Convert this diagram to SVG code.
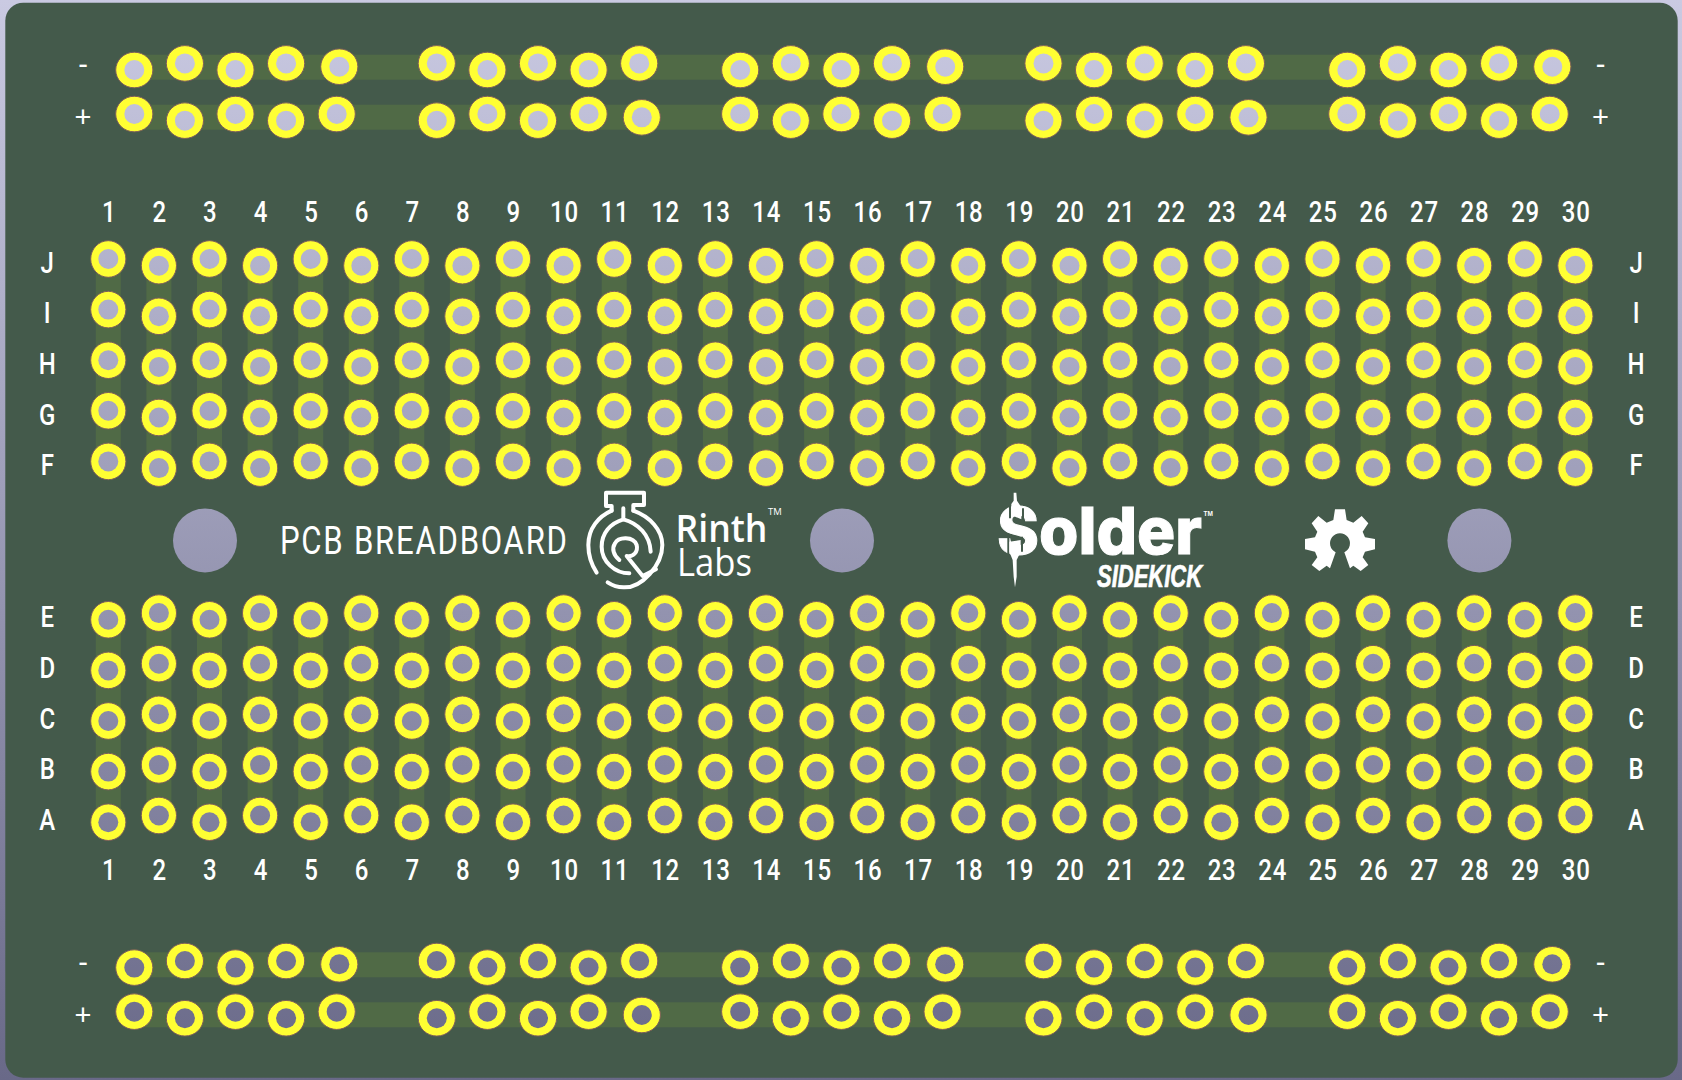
<svg xmlns="http://www.w3.org/2000/svg" xmlns:xlink="http://www.w3.org/1999/xlink" width="1682" height="1080" viewBox="0 0 1682 1080">
<style>
.pad{fill:var(--ring);stroke:var(--edge);stroke-width:1}
.hole{fill:var(--hole)}
.tr{fill:var(--trace)}
.layer{--ring:#ffff33;--edge:#7c5d5a;--hole:none;--trace:#506a46}
.cut{--ring:none;--edge:none;--hole:#000;--trace:none}
text{fill:#fff;font-family:Roboto,"Liberation Sans",sans-serif}
.lab{font-size:30px;font-weight:500;text-anchor:middle;letter-spacing:1px}
.sign{font-size:29px;text-anchor:middle;font-family:"Liberation Sans",sans-serif}
.logo{fill:none;stroke:#fff;stroke-width:12;stroke-linecap:round;stroke-linejoin:round}
.gap{fill:none;stroke:#445a4b;stroke-width:6}
</style>
<defs>
<linearGradient id="bg" x1="0" y1="0" x2="0" y2="1"><stop offset="0" stop-color="#cacae2"/><stop offset="1" stop-color="#696988"/></linearGradient>
<g id="pad"><ellipse class="pad" rx="17.6" ry="18.3"/><circle class="hole" r="10"/></g>
<g id="rp"><ellipse class="pad" rx="18.6" ry="17.8"/><circle class="hole" r="10"/></g>
<g id="col"><rect class="tr" x="-12.5" y="0" width="25" height="202.4"/><use href="#pad"/><use href="#pad" y="50.6"/><use href="#pad" y="101.2"/><use href="#pad" y="151.8"/><use href="#pad" y="202.4"/></g>
<g id="odd"><use href="#col" x="108.3"/><use href="#col" x="209.5"/><use href="#col" x="310.7"/><use href="#col" x="411.8"/><use href="#col" x="513"/><use href="#col" x="614.2"/><use href="#col" x="715.4"/><use href="#col" x="816.6"/><use href="#col" x="917.7"/><use href="#col" x="1018.9"/><use href="#col" x="1120.1"/><use href="#col" x="1221.3"/><use href="#col" x="1322.5"/><use href="#col" x="1423.6"/><use href="#col" x="1524.8"/></g>
<g id="even"><use href="#col" x="158.9"/><use href="#col" x="260.1"/><use href="#col" x="361.3"/><use href="#col" x="462.4"/><use href="#col" x="563.6"/><use href="#col" x="664.8"/><use href="#col" x="766"/><use href="#col" x="867.2"/><use href="#col" x="968.3"/><use href="#col" x="1069.5"/><use href="#col" x="1170.7"/><use href="#col" x="1271.9"/><use href="#col" x="1373.1"/><use href="#col" x="1474.2"/><use href="#col" x="1575.4"/></g>
<g id="railA"><use href="#rp"/><use href="#rp" x="50.6" y="-6.6"/><use href="#rp" x="101.2"/><use href="#rp" x="151.8" y="-6.6"/><use href="#rp" x="205" y="-3.3"/></g>
<g id="railB"><use href="#rp" y="-6.6"/><use href="#rp" x="50.6"/><use href="#rp" x="101.2" y="-6.6"/><use href="#rp" x="151.8"/><use href="#rp" x="202.4" y="-6.6"/></g>
<g id="rails">
<rect class="tr" x="134" y="-15.3" width="1418" height="25"/><rect class="tr" x="134" y="34.7" width="1416" height="25"/>
<use href="#railA" x="134.3"/><use href="#railB" x="436.8"/><use href="#railA" x="740.2"/><use href="#railB" x="1043.5"/><use href="#railA" x="1347.3"/>
<use href="#railB" x="134.3" y="50.65"/><use href="#railA" x="436.8" y="50.65"/><use href="#railB" x="740.2" y="50.65"/><use href="#railA" x="1043.5" y="50.65"/><use href="#railB" x="1347.3" y="50.65"/>
</g>
<g id="allPads"><use href="#odd" y="259"/><use href="#even" y="265.7"/><use href="#odd" y="619.8"/><use href="#even" y="613.1"/><use href="#rails" y="70"/><use href="#rails" y="967.6"/></g>
<mask id="holes" maskUnits="userSpaceOnUse" x="0" y="0" width="1682" height="1080">
<rect width="1682" height="1080" fill="#fff"/>
<use href="#allPads" class="cut"/>
<circle cx="205" cy="540.5" r="32" fill="#000"/><circle cx="842" cy="540.5" r="32" fill="#000"/><circle cx="1479.4" cy="540.5" r="32" fill="#000"/>
</mask>
</defs>
<rect id="background" width="1682" height="1080" fill="url(#bg)"/>
<g id="board" mask="url(#holes)">
<rect x="5.3" y="2.7" width="1672.4" height="1075" rx="18" fill="#445a4b"/>
<use href="#allPads" class="layer"/>
</g>
<g id="column-numbers" transform="scale(.8 1)">
<g class="lab" transform="translate(1 221.7)"><text x="135.4">1</text><text x="198.6">2</text><text x="261.9">3</text><text x="325.1">4</text><text x="388.4">5</text><text x="451.6">6</text><text x="514.8">7</text><text x="578">8</text><text x="641.3">9</text><text x="704.5">10</text><text x="767.8">11</text><text x="831">12</text><text x="894.3">13</text><text x="957.5">14</text><text x="1020.8">15</text><text x="1084">16</text><text x="1147.1">17</text><text x="1210.4">18</text><text x="1273.6">19</text><text x="1336.9">20</text><text x="1400.1">21</text><text x="1463.4">22</text><text x="1526.6">23</text><text x="1589.9">24</text><text x="1653.1">25</text><text x="1716.4">26</text><text x="1779.5">27</text><text x="1842.8">28</text><text x="1906">29</text><text x="1969.3">30</text></g>
<g class="lab" transform="translate(1 880)"><text x="135.4">1</text><text x="198.6">2</text><text x="261.9">3</text><text x="325.1">4</text><text x="388.4">5</text><text x="451.6">6</text><text x="514.8">7</text><text x="578">8</text><text x="641.3">9</text><text x="704.5">10</text><text x="767.8">11</text><text x="831">12</text><text x="894.3">13</text><text x="957.5">14</text><text x="1020.8">15</text><text x="1084">16</text><text x="1147.1">17</text><text x="1210.4">18</text><text x="1273.6">19</text><text x="1336.9">20</text><text x="1400.1">21</text><text x="1463.4">22</text><text x="1526.6">23</text><text x="1589.9">24</text><text x="1653.1">25</text><text x="1716.4">26</text><text x="1779.5">27</text><text x="1842.8">28</text><text x="1906">29</text><text x="1969.3">30</text></g>
<g class="lab"><text x="59.6" y="272.8">J</text><text x="59.6" y="323.4">I</text><text x="59.6" y="374">H</text><text x="59.6" y="424.6">G</text><text x="59.6" y="475.2">F</text><text x="59.6" y="627.4">E</text><text x="59.6" y="678">D</text><text x="59.6" y="728.6">C</text><text x="59.6" y="779.2">B</text><text x="59.6" y="829.8">A</text>
<text x="2045.6" y="272.8">J</text><text x="2045.6" y="323.4">I</text><text x="2045.6" y="374">H</text><text x="2045.6" y="424.6">G</text><text x="2045.6" y="475.2">F</text><text x="2045.6" y="627.4">E</text><text x="2045.6" y="678">D</text><text x="2045.6" y="728.6">C</text><text x="2045.6" y="779.2">B</text><text x="2045.6" y="829.8">A</text></g>
</g>
<g id="rail-signs"><text class="sign" x="83" y="74.4">-</text><text class="sign" x="83" y="126.5">+</text><text class="sign" x="1600.5" y="74.4">-</text><text class="sign" x="1600.5" y="126.5">+</text><text class="sign" x="83" y="972.2">-</text><text class="sign" x="83" y="1024.5">+</text><text class="sign" x="1600.5" y="972.2">-</text><text class="sign" x="1600.5" y="1024.5">+</text></g>
<g id="title" transform="translate(280 553.8) scale(.82 1)"><text x="0" y="0" font-size="38" textLength="350" lengthAdjust="spacing">PCB BREADBOARD</text></g>
<g id="rinth-labs">
<g transform="translate(570 480) scale(.3333)" class="logo">
<path d="M125,92 V78 H108 V38 H222 V75 H190 V92"/>
<path d="M125,92 C85,110 55,145 55,195 C55,225 65,255 80,278"/>
<path d="M190,92 C240,110 277,150 277,195 C277,255 215,325 160,322 C140,322 125,315 113,307"/>
<path d="M160,85 V118 C120,130 95,160 95,200 C95,245 135,280 178,280"/>
<path d="M160,118 C205,130 240,165 242,215"/>
<path d="M148,240 C130,225 125,205 135,190 C145,170 190,168 200,195 C205,215 190,232 170,228 L218,288 L258,268"/>
</g>
<text x="675.5" y="541.5" font-size="38" font-weight="600" style="font-family:'Open Sans',sans-serif" textLength="92" lengthAdjust="spacingAndGlyphs">Rinth</text>
<text x="677" y="575.5" font-size="38" font-weight="400" style="font-family:'Open Sans',sans-serif" textLength="75" lengthAdjust="spacingAndGlyphs">Labs</text>
<text x="768" y="515" font-size="9.5" style="font-family:'Open Sans',sans-serif">TM</text>
</g>
<g id="solder-sidekick">
<text x="997" y="554" font-size="65" font-weight="800" stroke="#fff" stroke-width="1" style="font-family:Inter,'Liberation Sans',sans-serif" textLength="205" lengthAdjust="spacingAndGlyphs">Solder</text>
<g transform="translate(980 480) scale(.3333)">
<path class="gap" d="M90,75 V115 M129,85 V122 M85,168 V222 M126,170 V215"/>
<path fill="#fff" d="M101,38 H109 L111,62 L124,82 V118 L94,105 V72 L101,62 Z M88,185 L122,180 L122,215 L110,240 V290 L105,322 L101,290 L98,240 L88,215 Z"/>
</g>
<text x="1203.5" y="516" font-size="6.5" font-weight="700" style="font-family:'Liberation Sans',sans-serif">TM</text>
<text x="1097" y="586.7" font-size="32" font-weight="700" font-style="italic" stroke="#fff" stroke-width=".7" style="font-family:'Liberation Sans',sans-serif" textLength="105" lengthAdjust="spacingAndGlyphs">SIDEKICK</text>
</g>
<g id="open-hardware" transform="translate(1290 500) scale(.3333)">
<path fill="#fff" d="M165,28 L170,60 L190,68 L215,48 L235,70 L218,95 L225,112 L255,117 V148 L225,155 L218,172 L235,195 L212,213 L190,197 L180,205 L163,157 A30,30 0 1 0 137,157 L120,205 L110,197 L88,213 L65,195 L82,172 L75,155 L45,148 V117 L75,112 L82,95 L65,70 L85,48 L110,68 L130,60 L135,28 Z"/>
</g>
</svg>
